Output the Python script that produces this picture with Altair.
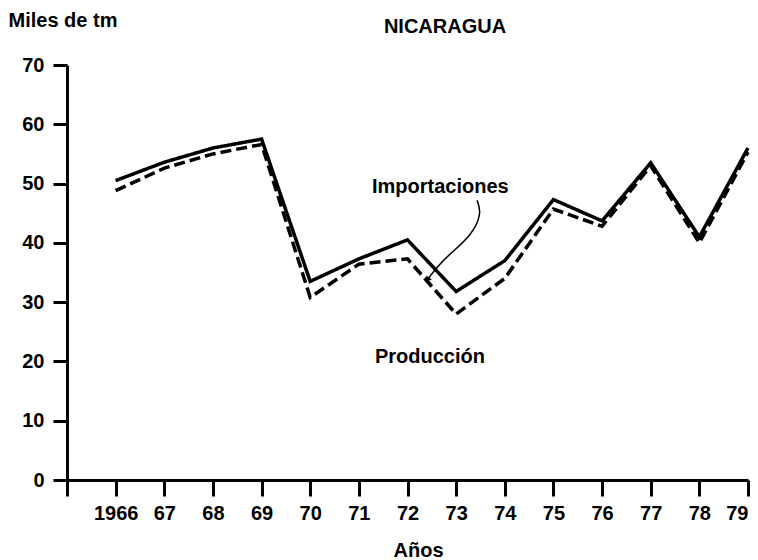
import altair as alt
import pandas as pd

years = list(range(1966, 1980))
produccion = [50.5, 53.6, 56.0, 57.5, 33.5, 37.3, 40.5, 31.8, 37.0, 47.3, 43.7, 53.5, 41.0, 56.0]
importaciones = [48.8, 52.6, 55.0, 56.6, 30.8, 36.4, 37.3, 28.0, 34.0, 45.7, 42.8, 53.0, 40.0, 55.3]

label_text = ["Importaciones", "Producción"]
label_x = [1971.27, 1971.33]
label_y = [49.4, 20.7]

arrow_x = [1973.43, 1973.53, 1973.31, 1972.89, 1972.59, 1972.42]
arrow_y = [47.2, 44.9, 41.2, 38.3, 35.8, 33.9]

title_text = ["NICARAGUA"]

FONT = "Liberation Sans"
FS = 20

df = pd.DataFrame({
    "year": years * 2,
    "value": produccion + importaciones,
    "serie": ["Producción"] * len(years) + ["Importaciones"] * len(years),
})
df_lab = pd.DataFrame({"year": label_x, "value": label_y, "text": label_text})
df_arrow = pd.DataFrame({"year": arrow_x, "value": arrow_y, "i": list(range(len(arrow_x)))})
df_tip = df_arrow.tail(1)
df_title = pd.DataFrame({"t": title_text})

x_enc = alt.X(
    "year:Q",
    scale=alt.Scale(domain=[1965, 1979], nice=False, zero=False),
    axis=alt.Axis(
        values=list(range(1965, 1980)),
        labelExpr="datum.value == 1965 ? '' : (datum.value == 1966 ? '1966' : substring(toString(datum.value), 2))",
        title="Años",
        titleX=351, titleY=70, titleAlign="center", titleBaseline="middle",
        titleFont=FONT, titleFontSize=FS, titleFontWeight="bold", titleColor="black",
        labelFont=FONT, labelFontSize=FS, labelFontWeight="bold", labelColor="black",
        labelPadding=7, tickSize=16, tickWidth=3, tickColor="black",
        domainWidth=3, domainColor="black", grid=False, labelFlush=True,
    ),
)
y_enc = alt.Y(
    "value:Q",
    scale=alt.Scale(domain=[0, 70], nice=False),
    axis=alt.Axis(
        values=list(range(0, 71, 10)),
        title="Miles de tm",
        titleAngle=0, titleX=-59, titleY=-45, titleAlign="left", titleBaseline="middle",
        titleFont=FONT, titleFontSize=FS, titleFontWeight="bold", titleColor="black",
        labelFont=FONT, labelFontSize=FS, labelFontWeight="bold", labelColor="black",
        labelPadding=9, tickSize=14, tickWidth=3, tickColor="black",
        domainWidth=3, domainColor="black", grid=False, labelFlush=False,
    ),
)

lines = alt.Chart(df).mark_line(color="black", strokeWidth=3.5).encode(
    x=x_enc,
    y=y_enc,
    detail="serie:N",
    strokeDash=alt.StrokeDash(
        "serie:N",
        scale=alt.Scale(domain=["Producción", "Importaciones"], range=[[1, 0], [11, 5]]),
        legend=None,
    ),
)

labels = alt.Chart(df_lab).mark_text(
    align="left", baseline="middle", font=FONT, fontSize=FS, fontWeight="bold", color="black"
).encode(x=x_enc, y=y_enc, text="text:N")

arrow = alt.Chart(df_arrow).mark_line(
    color="black", strokeWidth=1.5, interpolate="basis"
).encode(x=x_enc, y=y_enc, order="i:Q")

tip = alt.Chart(df_tip).mark_point(
    shape="triangle", filled=True, color="black", size=45, angle=216, opacity=1
).encode(x=x_enc, y=y_enc)

title = alt.Chart(df_title).mark_text(
    align="center", baseline="middle", font=FONT, fontSize=FS, fontWeight="bold", color="black"
).encode(x=alt.value(378), y=alt.value(-38), text="t:N")

chart = alt.layer(lines, arrow, tip, labels, title).properties(
    width=681,
    height=415,
    autosize=alt.AutoSizeParams(type="none"),
    padding={"left": 59, "top": 57, "right": 2, "bottom": 80},
    background="white",
).configure_view(stroke=None)

chart.save("out.html", embed_options={"renderer": "svg", "actions": False})
